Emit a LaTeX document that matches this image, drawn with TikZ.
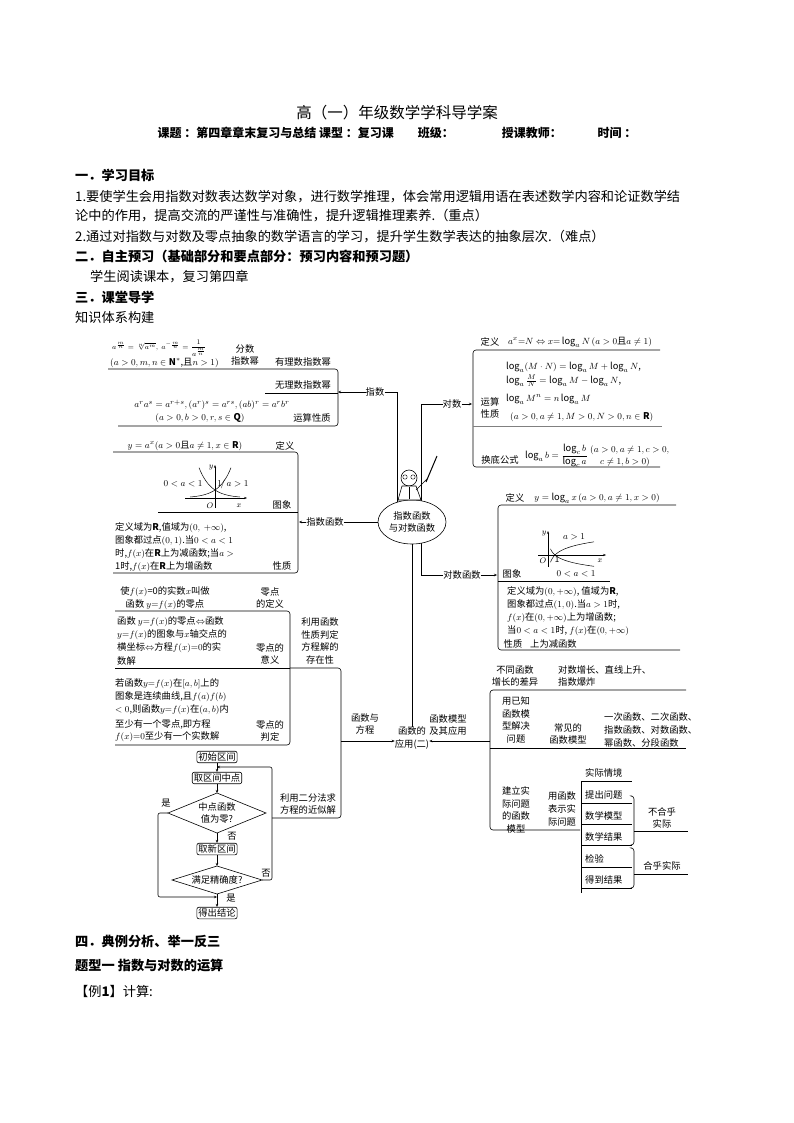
\documentclass[tikz,border=0pt]{standalone}
\usepackage{fontspec}
\usepackage{amsmath,amssymb}
\setmainfont{Noto Sans CJK SC}
\usetikzlibrary{arrows.meta,shapes.geometric}
\def\ds{\fontsize{9.3}{12.8}\selectfont}
\def\bs{\fontsize{13.2}{18}\selectfont}
\tikzset{
 t/.style={font=\ds,inner sep=0pt,align=center},
 tl/.style={font=\ds,inner sep=0pt,align=left,anchor=west},
 bt/.style={font=\bs,inner sep=0pt,anchor=west},
 ln/.style={line width=0.6pt},
 br/.style={line width=0.6pt,rounded corners=3pt},
 ar/.style={line width=0.6pt,-{Stealth[length=3pt,width=2.5pt]}},
 fb/.style={font=\ds,draw,rounded corners=2pt,inner sep=1.5pt,line width=0.6pt},
}
\begin{document}
\begin{tikzpicture}[x=1pt,y=-1pt]
\useasboundingbox (0,0) rectangle (794,1123);
% header
\node[font=\fontsize{15.5}{18}\selectfont,inner sep=0pt] (title) at (397,113) {高（一）年级数学学科导学案};
\node[font=\fontsize{12}{16}\selectfont\bfseries,inner sep=0pt] (sub) at (397,133) {课题 ：第四章章末复习与总结 课型 ：复习课\hspace{2em}班级：\hspace{4em}授课教师：\hspace{3em}时间 ：};
\node[bt,font=\bs\bfseries] (h1) at (75,175) {一．学习目标};
\node[bt] (p1) at (75,197) {1.要使学生会用指数对数表达数学对象，进行数学推理，体会常用逻辑用语在表述数学内容和论证数学结};
\node[bt] (p2) at (75,216) {论中的作用，提高交流的严谨性与准确性，提升逻辑推理素养.（重点）};
\node[bt] (p3) at (75,237) {2.通过对指数与对数及零点抽象的数学语言的学习，提升学生数学表达的抽象层次.（难点）};
\node[bt,font=\bs\bfseries] (h2) at (75,256) {二．自主预习（基础部分和要点部分：预习内容和预习题）};
\node[bt] (p4) at (90,277) {学生阅读课本，复习第四章};
\node[bt,font=\bs\bfseries] (h3) at (75,297) {三．课堂导学};
\node[bt] (p5) at (75,317) {知识体系构建};

% ===== center
\node[t] (zs) at (375,392) {指数};
\node[t] (zsf) at (325,522) {指数函数};
\node[t] (ds) at (452,404) {对数};
\node[t] (dsf) at (462,575) {对数函数};
\node[t] (app) at (412,738) {函数的\\应用(二)};
\draw[ln] (zs.east) -- (397,392) -- (397,512);
\draw[ln] (ds.west) -- (421,404) -- (421,512);
\draw[ln] (dsf.west) -- (421,575) -- (421,530);
\draw[ln] (zsf.east) -- (390,522);
\draw[ln] (412,530) -- (app.north);
\node[draw,ellipse,line width=0.6pt,fill=white,minimum width=68pt,minimum height=44pt,inner sep=0pt,font=\ds,align=center] (c) at (412,522) {指数函数\\与对数函数};
% teacher
\draw[ln,fill=white] (409,478) circle (8);
\draw[line width=0.4pt] (405,477) circle (2.2) (413,477) circle (2.2);
\draw[ln,fill=white] (402,486) -- (398,500) -- (421,500) -- (416,486) -- cycle;
\draw[ln] (416,490) -- (428,478);
\draw[line width=1pt] (426,482) -- (437,456);
\draw[ln] (409,487) -- (409,499);

% ===== 指数
\coordinate (bz) at (338,392);
\draw[ar] (zs.west) -- (bz);
\draw[br] (108,369) -- (338,369) -- (338,426) -- (118,426);
\draw[ln] (265,393) -- (338,393);
\node[tl,font=\fontsize{7.5}{9}\selectfont] (f1) at (112,348) {$a^{\frac{m}{n}}=\sqrt[n]{a^m},\ a^{-\frac{m}{n}}=\dfrac{1}{a^{\frac{m}{n}}}$};
\node[tl] (f2) at (110,363) {$(a>0,m,n\in\mathbf{N}^*$,且$n>1)$};
\node[t] (fs) at (245,355) {分数\\指数幂};
\node[t] (yl) at (303,362) {有理数指数幂};
\node[t] (wl) at (303,385) {无理数指数幂};
\node[t] (f3) at (212,405) {$a^ra^s=a^{r+s},(a^r)^s=a^{rs},(ab)^r=a^rb^r$};
\node[t] (f4) at (200,418) {$(a>0,b>0,r,s\in\mathbf{Q})$};
\node[t] (ys) at (312,418) {运算性质};

% ===== 指数函数
\draw[ar] (zsf.west) -- (299,522);
\draw[br] (113,452) -- (298,452) -- (298,573) -- (113,573);
\draw[ln] (158,512) -- (298,512);
\node[t] (e1) at (185,446) {$y=a^x(a>0$且$a\neq1,x\in\mathbf{R})$};
\node[t] (e2) at (285,446) {定义};
\node[t] (e3) at (282,505) {图象};
\node[t] (e4) at (282,566) {性质};
\begin{scope}[shift={(215,498)}]
\draw[line width=0.5pt,-{Stealth[length=3pt]}] (-30,0) -- (32,0);
\draw[line width=0.5pt,-{Stealth[length=3pt]}] (0,10) -- (0,-33);
\draw[line width=0.5pt,domain=-25:16,smooth] plot (\x,{-8*exp(\x/12)});
\draw[line width=0.5pt,domain=-16:25,smooth] plot (\x,{-8*exp(-\x/12)});
\node[t,font=\fontsize{8}{9}\selectfont] at (-5,8) {$O$};
\node[t,font=\fontsize{8}{9}\selectfont] at (24,8) {$x$};
\node[t,font=\fontsize{8}{9}\selectfont] at (-4,-30) {$y$};
\node[t] at (-32,-14) {$0<a<1$};
\node[t] at (18,-14) {$1\!/\,a>1$};
\end{scope}
\node[tl] (e5) at (115,528) {定义域为$\mathbf{R}$,值域为$(0,\ +\infty)$,};
\node[tl] (e6) at (115,541) {图象都过点$(0,1)$.当$0<a<1$};
\node[tl] (e7) at (115,554) {时,$f(x)$在$\mathbf{R}$上为减函数;当$a>$};
\node[tl] (e8) at (115,567) {1时,$f(x)$在$\mathbf{R}$上为增函数};

% ===== 对数
\draw[ar] (ds.east) -- (472,404);
\draw[br] (660,350) -- (473,350) -- (473,467) -- (660,467);
\draw[ln,gray] (473,426) -- (662,426);
\node[t] (l1) at (490,342) {定义};
\node[t] (l2) at (580,342) {$a^x{=}N\Leftrightarrow x{=}\log_aN\,(a>0$且$a\neq1)$};
\node[tl] (l3) at (506,367) {$\log_a(M\cdot N)=\log_aM+\log_aN$,};
\node[tl] (l4) at (506,381) {$\log_a\frac{M}{N}=\log_aM-\log_aN$,};
\node[tl] (l5) at (506,399) {$\log_aM^n=n\log_aM$};
\node[tl] (l6) at (510,417) {$(a>0,a\neq1,M>0,N>0,n\in\mathbf{R})$};
\node[t] (l7) at (490,408) {运算\\性质};
\node[t] (l8) at (500,460) {换底公式};
\node[tl] (l9) at (525,456) {$\log_ab=\dfrac{\log_cb}{\log_ca}$};
\node[tl] (l10) at (590,450) {$(a>0,a\neq1,c>0,$};
\node[tl] (l11) at (600,462) {$c\neq1,b>0)$};

% ===== 对数函数
\draw[ar] (dsf.east) -- (497,575);
\draw[br] (676,505) -- (498,505) -- (498,650) -- (680,650);
\draw[ln] (498,581) -- (610,581);
\node[t] (g1) at (515,498) {定义};
\node[t] (g2) at (597,498) {$y=\log_ax\,(a>0,a\neq1,x>0)$};
\node[t] (g3) at (512,574) {图象};
\begin{scope}[shift={(548,555)}]
\draw[line width=0.5pt,-{Stealth[length=3pt]}] (-10,0) -- (58,0);
\draw[line width=0.5pt,-{Stealth[length=3pt]}] (0,12) -- (0,-24);
\draw[line width=0.5pt,domain=2.5:46,smooth,samples=40] plot (\x,{-7*ln(\x/7)});
\draw[line width=0.5pt,domain=2.5:46,smooth,samples=40] plot (\x,{6*ln(\x/7)});
\node[t,font=\fontsize{8}{9}\selectfont] at (-5,6) {$O$};
\node[t,font=\fontsize{8}{9}\selectfont] at (9,5) {1};
\node[t,font=\fontsize{8}{9}\selectfont] at (52,6) {$x$};
\node[t,font=\fontsize{8}{9}\selectfont] at (-4,-21) {$y$};
\node[t] at (26,-18) {$a>1$};
\node[t] at (28,19) {$0<a<1$};
\end{scope}
\node[tl] (g4) at (507,592) {定义域为$(0,+\infty)$, 值域为$\mathbf{R}$,};
\node[tl] (g5) at (507,605) {图象都过点$(1,0)$.当$a>1$时,};
\node[tl] (g6) at (507,618) {$f(x)$在$(0,+\infty)$上为增函数;};
\node[tl] (g7) at (507,631) {当$0<a<1$时, $f(x)$在$(0,+\infty)$};
\node[t] (g8) at (513,644) {性质};
\node[tl] (g9) at (530,644) {上为减函数};

% ===== 函数与方程
\node[t] (hf) at (365,724) {函数与\\方程};
\draw[ar] (341,741) -- (app.west|-341,741);
\draw[br] (290,668) -- (341,668) -- (341,818) -- (272,818);
\node[t] (lx) at (320,641) {利用函数\\性质判定\\方程解的\\存在性};
\node[t] (ef) at (308,804) {利用二分法求\\方程的近似解};
\draw[br] (115,611) -- (290,611) -- (290,745) -- (115,745);
\draw[ln] (115,668) -- (290,668);
\node[t] (z1) at (165,598) {使$f(x)$=0的实数$x$叫做\\函数 $y{=}f(x)$的零点};
\node[t] (z2) at (270,598) {零点\\的定义};
\node[tl] (z3) at (117,622) {函数 $y{=}f(x)$的零点$\Leftrightarrow$函数};
\node[tl] (z4) at (117,635) {$y{=}f(x)$的图象与$x$轴交点的};
\node[tl] (z5) at (117,648) {横坐标$\Leftrightarrow$方程$f(x){=}0$的实};
\node[tl] (z6) at (117,661) {数解};
\node[t] (z7) at (270,654) {零点的\\意义};
\node[tl] (z8) at (115,684) {若函数$y{=}f(x)$在$[a,b]$上的};
\node[tl] (z9) at (115,697) {图象是连续曲线,且$f(a)f(b)$};
\node[tl] (z10) at (115,710) {$<0$,则函数$y{=}f(x)$在$(a,b)$内};
\node[tl] (z11) at (115,724) {至少有一个零点,即方程};
\node[tl] (z12) at (115,737) {$f(x){=}0$至少有一个实数解};
\node[t] (z13) at (270,731) {零点的\\判定};
% flowchart
\node[fb] (fc1) at (217,757) {初始区间};
\node[fb] (fc2) at (217,778) {取区间中点};
\coordinate (d1t) at (217,793); \coordinate (d1b) at (217,833);
\coordinate (d1l) at (168,813); \coordinate (d1r) at (266,813);
\draw[ln] (d1t) -- (d1r) -- (d1b) -- (d1l) -- cycle;
\node[t] (d1) at (217,813) {中点函数\\值为零?};
\node[fb] (fc3) at (217,849) {取新区间};
\coordinate (d2t) at (217,866); \coordinate (d2b) at (217,894);
\coordinate (d2l) at (172,880); \coordinate (d2r) at (262,880);
\draw[ln] (d2t) -- (d2r) -- (d2b) -- (d2l) -- cycle;
\node[t] (d2) at (217,880) {满足精确度?};
\node[fb] (fc4) at (217,913) {得出结论};
\draw[ar] (fc1) -- (fc2);
\draw[ar] (fc2) -- (d1t);
\draw[ar] (d1b) -- (fc3);
\draw[ar] (fc3) -- (d2t);
\draw[ar] (d2b) -- (fc4);
\draw[ar,rounded corners=2pt] (d2r) -- (272,880) -- (272,767) -- (217,767);
\draw[ar,rounded corners=2pt] (d1l) -- (158,813) -- (158,897) -- (217,897);
\node[t] (y1) at (166,803) {是};
\node[t] (n1) at (232,836) {否};
\node[t] (n2) at (266,873) {否};
\node[t] (y2) at (231,898) {是};

% ===== 函数模型及其应用
\node[t] (mx) at (448,725) {函数模型\\及其应用};
\draw[ar] (490,741) -- (app.east|-490,741);
\draw[br] (686,690) -- (490,690) -- (490,830) -- (580,830);
\draw[ln] (490,748) -- (686,748);
\node[t] (m1) at (515,676) {不同函数\\增长的差异};
\node[tl] (m2) at (558,676) {对数增长、直线上升、\\指数爆炸};
\node[t] (m3) at (516,720) {用已知\\函数模\\型解决\\问题};
\node[t] (m4) at (568,734) {常见的\\函数模型};
\node[tl] (m5) at (604,730) {一次函数、二次函数、\\指数函数、对数函数、\\幂函数、分段函数};
\node[t] (m6) at (516,810) {建立实\\际问题\\的函数\\模型};
\node[t] (m7) at (562,809) {用函数\\表示实\\际问题};
\draw[ln] (581,781) -- (581,893);
\foreach \n/\yy/\s in {k1/781/实际情境,k2/803/提出问题,k3/824/数学模型,k4/845/数学结果,k5/867/检验,k6/888/得到结果}{
  \draw[ln] (581,\yy) -- (632,\yy);
  \node[tl] (\n) at (585,\yy-8) {\s};
}
\draw[br] (632,796) -- (634,796) -- (634,845) -- (632,845);
\draw[ln] (634,831) -- (688,831);
\node[t] (bh) at (662,818) {不合乎\\实际};
\draw[br] (632,848) -- (634,848) -- (634,888) -- (632,888);
\draw[ln] (634,874) -- (688,874);
\node[t] (hh) at (662,866) {合乎实际};

% ===== bottom
\node[bt,font=\bs\bfseries] (h4) at (75,941) {四．典例分析、举一反三};
\node[bt,font=\bs\bfseries] (h5) at (75,966) {题型一 指数与对数的运算};
\node[bt] (h6) at (75,991) {【例\textbf{1}】计算:};
\end{tikzpicture}
\end{document}
